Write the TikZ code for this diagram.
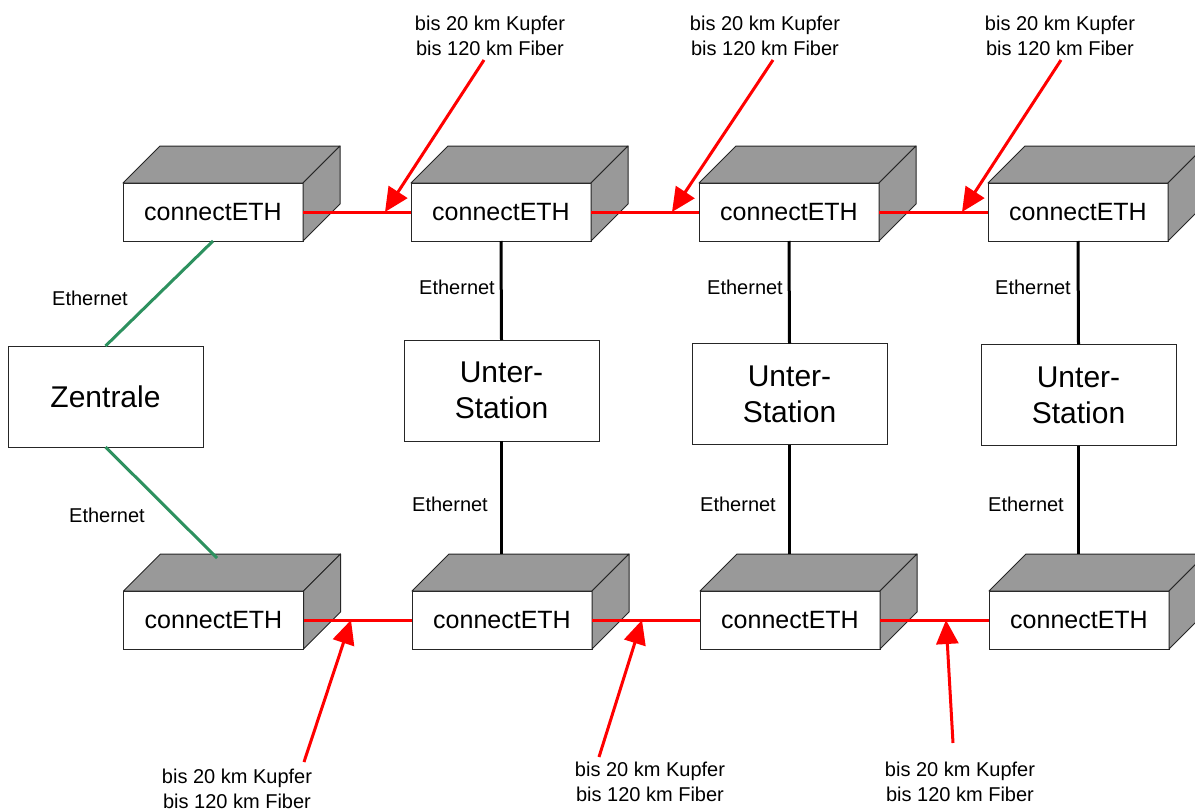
\documentclass[tikz,border=0pt]{standalone}
\usepackage{fontspec}
\setmainfont{Liberation Sans}
\usetikzlibrary{arrows.meta}
\definecolor{boxgray}{RGB}{153,153,153}
\definecolor{ethgreen}{RGB}{45,145,95}
\definecolor{linkred}{RGB}{255,0,0}
\tikzset{
  front/.style={draw=black!85, line width=1pt, fill=white, minimum width=180pt, minimum height=58pt, inner sep=0pt, outer sep=0pt, font=\fontsize{25}{30}\selectfont},
  face/.style={draw=black!85, line width=1pt, fill=boxgray, line join=round},
  station/.style={draw=black!85, line width=1pt, fill=white, minimum width=195pt, minimum height=101pt, inner sep=0pt, outer sep=0pt, align=center, font=\fontsize{30}{36}\selectfont},
  lbl/.style={font=\fontsize{20}{25}\selectfont, align=center, inner sep=0pt},
  redlink/.style={draw=linkred, line width=3pt},
  redarrow/.style={draw=linkred, line width=3pt, -{Triangle[length=24pt,width=22pt]}},
  ethline/.style={draw=black, line width=3pt},
  greenline/.style={draw=ethgreen, line width=3pt},
}
\newcommand{\cethbox}[3]{%
  \node[front] (#1) at (#2,#3) {connectETH};
  \path[face] (#1.north west) -- ++(37,-37) -- ++(180,0) -- (#1.north east) -- cycle;
  \path[face] (#1.north east) -- ++(37,-37) -- ++(0,58) -- (#1.south east) -- cycle;
  \coordinate (#1-back) at ([shift={(0,-37)}]#1.north);
}
\begin{document}
\begin{tikzpicture}[x=1pt,y=-1pt]
\useasboundingbox (0,0) rectangle (1195,811);

% connectETH boxes
\cethbox{t1}{213}{212}
\cethbox{t2}{501}{212}
\cethbox{t3}{789}{212}
\cethbox{t4}{1078}{212}
\cethbox{b1}{213.5}{620}
\cethbox{b2}{502}{620}
\cethbox{b3}{790}{620}
\cethbox{b4}{1079}{620}

% central and sub stations
\node[station] (zen) at (105.5,396.5) {Zentrale};
\node[station] (us1) at (501.5,390.5) {Unter-\\Station};
\node[station] (us2) at (789.5,394) {Unter-\\Station};
\node[station] (us3) at (1078.5,395) {Unter-\\Station};

% Ethernet connections
\coordinate (g2end) at (217,558);
\draw[greenline] (t1.south) -- (zen.north);
\draw[greenline] (zen.south) -- (g2end);
\draw[ethline] (t2.south) -- (us1.north);
\draw[ethline] (us1.south) -- (us1.south |- b2-back);
\draw[ethline] (t3.south) -- (us2.north);
\draw[ethline] (us2.south) -- (us2.south |- b3-back);
\draw[ethline] (t4.south) -- (us3.north);
\draw[ethline] (us3.south) -- (us3.south |- b4-back);

\node[lbl] (e1) at (90,298) {Ethernet};
\node[lbl] (e2) at (107,515) {Ethernet};
\node[lbl] (e3) at (457,287) {Ethernet};
\node[lbl] (e4) at (450,504) {Ethernet};
\node[lbl] (e5) at (745,287) {Ethernet};
\node[lbl] (e6) at (738,504) {Ethernet};
\node[lbl] (e7) at (1033,287) {Ethernet};
\node[lbl] (e8) at (1026,504) {Ethernet};

% red links
\draw[redlink] (t1.east) -- (t2.west);
\draw[redlink] (t2.east) -- (t3.west);
\draw[redlink] (t3.east) -- (t4.west);
\draw[redlink] (b1.east) -- (b2.west);
\draw[redlink] (b2.east) -- (b3.west);
\draw[redlink] (b3.east) -- (b4.west);

% distance labels and arrows
\node[lbl] (k1) at (490,35.5) {bis 20 km Kupfer\\bis 120 km Fiber};
\node[lbl] (k2) at (765,35.5) {bis 20 km Kupfer\\bis 120 km Fiber};
\node[lbl] (k3) at (1060,35.5) {bis 20 km Kupfer\\bis 120 km Fiber};
\node[lbl] (k4) at (237,788.5) {bis 20 km Kupfer\\bis 120 km Fiber};
\node[lbl] (k5) at (650,781.5) {bis 20 km Kupfer\\bis 120 km Fiber};
\node[lbl] (k6) at (960,781.5) {bis 20 km Kupfer\\bis 120 km Fiber};

\coordinate (a1s) at (484,60);   \coordinate (a1e) at (385,212);
\coordinate (a2s) at (773,60);   \coordinate (a2e) at (672,212);
\coordinate (a3s) at (1061,60);  \coordinate (a3e) at (962,212);
\coordinate (a4s) at (304,762);  \coordinate (a4e) at (351,620);
\coordinate (a5s) at (599,757);  \coordinate (a5e) at (642,620);
\coordinate (a6s) at (953,743);  \coordinate (a6e) at (946,620);
\draw[redarrow] (a1s) -- (a1e);
\draw[redarrow] (a2s) -- (a2e);
\draw[redarrow] (a3s) -- (a3e);
\draw[redarrow] (a4s) -- (a4e);
\draw[redarrow] (a5s) -- (a5e);
\draw[redarrow] (a6s) -- (a6e);
\end{tikzpicture}
\end{document}
